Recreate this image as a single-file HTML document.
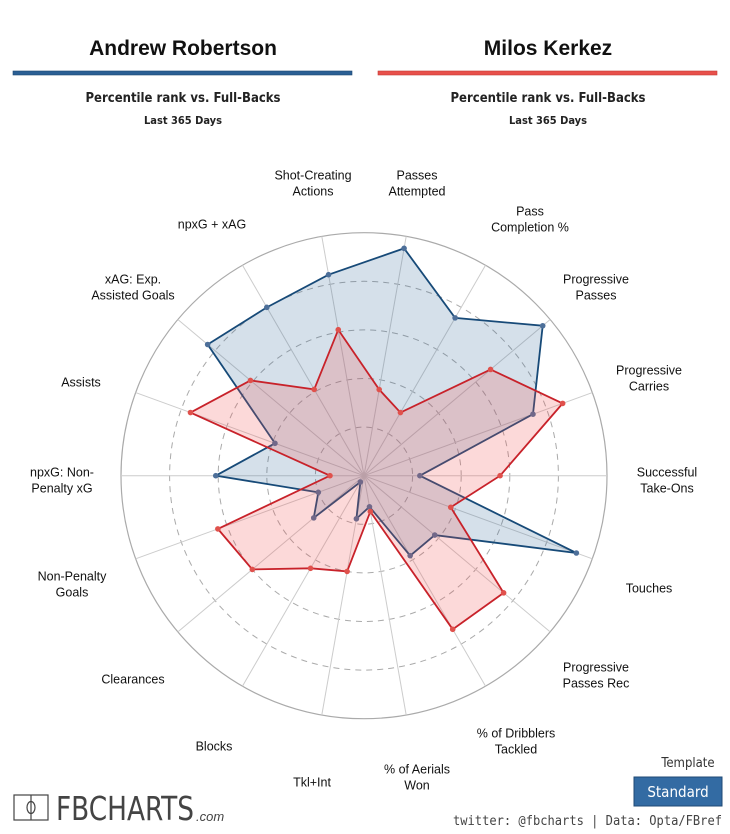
<!DOCTYPE html>
<html><head><meta charset="utf-8">
<style>
html,body{margin:0;padding:0;background:#fff;}
body{width:730px;height:834px;overflow:hidden;position:relative;font-family:"Liberation Sans",sans-serif;}
svg{position:absolute;left:0;top:0;}
</style></head>
<body>
<svg id="chart" width="730" height="834" viewBox="0 0 730 834">
  <text x="183" y="55" text-anchor="middle" font-size="21" font-weight="bold" fill="#111">Andrew Robertson</text>
  <text x="548" y="55" text-anchor="middle" font-size="21" font-weight="bold" fill="#111">Milos Kerkez</text>
  <rect x="13" y="71" width="339" height="4" fill="#2b5f94" stroke="#1d4670" stroke-width="0.6"/>
  <rect x="378" y="71" width="339" height="4" fill="#e8504b" stroke="#c43a36" stroke-width="0.6"/>
  <text x="183" y="102" text-anchor="middle" font-size="13" font-weight="bold" fill="#222" font-family="DejaVu Sans Condensed, DejaVu Sans, sans-serif">Percentile rank vs. Full-Backs</text>
  <text x="548" y="102" text-anchor="middle" font-size="13" font-weight="bold" fill="#222" font-family="DejaVu Sans Condensed, DejaVu Sans, sans-serif">Percentile rank vs. Full-Backs</text>
  <text x="183" y="124" text-anchor="middle" font-size="11" font-weight="bold" fill="#222" font-family="DejaVu Sans Condensed, DejaVu Sans, sans-serif">Last 365 Days</text>
  <text x="548" y="124" text-anchor="middle" font-size="11" font-weight="bold" fill="#222" font-family="DejaVu Sans Condensed, DejaVu Sans, sans-serif">Last 365 Days</text>
  <g id="grid"></g>
  <g id="series"></g>
  <g id="labels"></g>
  <g>
    <rect x="14" y="795" width="34" height="25" fill="none" stroke="#444" stroke-width="1.2"/>
    <line x1="31" y1="795" x2="31" y2="820" stroke="#444" stroke-width="1.2"/>
    <ellipse cx="31" cy="807.5" rx="4" ry="6" fill="none" stroke="#444" stroke-width="1.2"/>
    <text x="56" y="820" font-size="33" fill="#444" font-family="DejaVu Sans Condensed, DejaVu Sans, sans-serif" textLength="138" lengthAdjust="spacingAndGlyphs">FBCHARTS</text>
    <text x="196" y="821" font-size="13" font-style="italic" fill="#444">.com</text>
  </g>
  <text x="688" y="767" text-anchor="middle" font-size="13" fill="#333" font-family="DejaVu Sans Condensed, DejaVu Sans, sans-serif">Template</text>
  <g>
    <rect x="634" y="777" width="88" height="29" fill="#336ba3" stroke="#1f4a75" stroke-width="1"/>
    <text x="678" y="797" text-anchor="middle" font-size="15" fill="#fff" font-family="DejaVu Sans Condensed, DejaVu Sans, sans-serif">Standard</text>
  </g>
  <text x="722" y="825" text-anchor="end" font-size="13" fill="#444" font-family="DejaVu Sans Mono, monospace" textLength="269" lengthAdjust="spacingAndGlyphs">twitter: @fbcharts | Data: Opta/FBref</text>
</svg>
<script>
const categories = ["Successful Take-Ons","Progressive Carries","Progressive Passes","Pass Completion %","Passes Attempted","Shot-Creating Actions","npxG + xAG","xAG: Exp. Assisted Goals","Assists","npxG: Non-Penalty xG","Non-Penalty Goals","Clearances","Blocks","Tkl+Int","% of Aerials Won","% of Dribblers Tackled","Progressive Passes Rec","Touches"];
const robertsonValues = [23,74,96,75,95,84,80,84,39,61,20,27,3,18,13,38,38,93];
const kerkezValues = [56,87,68,30,36,61,41,61,76,14,64,60,44,40,15,73,75,38];
const ringTicks = [20,40,60,80,100];
const labelLines = [["Successful","Take-Ons"],["Progressive","Carries"],["Progressive","Passes"],["Pass","Completion %"],["Passes","Attempted"],["Shot-Creating","Actions"],["npxG + xAG"],["xAG: Exp.","Assisted Goals"],["Assists"],["npxG: Non-","Penalty xG"],["Non-Penalty","Goals"],["Clearances"],["Blocks"],["Tkl+Int"],["% of Aerials","Won"],["% of Dribblers","Tackled"],["Progressive","Passes Rec"],["Touches"]];

const NS="http://www.w3.org/2000/svg";
const cx=364, cy=475.7, R=243, maxV=100;
function angleOf(i){return i*2*Math.PI/categories.length;}
function rScale(v){return v/maxV*R;}
function pt(i,v){const a=angleOf(i),r=rScale(v);return [cx+r*Math.cos(a), cy-r*Math.sin(a)];}
function mk(tag,attrs,parent){const e=document.createElementNS(NS,tag);for(const k in attrs)e.setAttribute(k,attrs[k]);parent.appendChild(e);return e;}

const grid=document.getElementById('grid');
ringTicks.forEach(t=>{
  const c=mk('circle',{cx:cx,cy:cy,r:rScale(t),fill:'none',stroke:'#aaa','stroke-width':t===100?1.2:1,'stroke-dasharray':t===100?'none':'6 5'},grid);
  
  
});
categories.forEach((c,i)=>{
  const p=pt(i,maxV);
  const l=mk('line',{x1:cx,y1:cy,x2:p[0],y2:p[1],stroke:'#ccc','stroke-width':1},grid);
  
  
});

const series=document.getElementById('series');
function drawSeries(vals,fill,stroke,dot,name){
  const pts=vals.map((v,i)=>pt(i,v));
  const poly=mk('polygon',{points:pts.map(p=>p.join(',')).join(' '),fill:fill,stroke:stroke,'stroke-width':1.8,'stroke-linejoin':'miter'},series);
  
  
  pts.forEach((p,i)=>{
    const d=mk('circle',{cx:p[0],cy:p[1],r:2.8,fill:dot},series);
    
    
  });
}
drawSeries(robertsonValues,'rgba(43,100,150,0.2)','#174a78','#4d6f99','robertson');
drawSeries(kerkezValues,'rgba(240,80,80,0.22)','#c8222a','#e0514c','kerkez');

const labelPos=[[667,480],[649,378],[596,287],[530,219],[417,183],[313,183],[212,224],[133,287],[81,382],[62,480],[72,584],[133,679],[214,746],[312,782],[417,777],[516,741],[596,675],[649,588]];
const labels=document.getElementById('labels');
labelLines.forEach((lines,i)=>{
  const [x,y]=labelPos[i];
  const t=mk('text',{x:x,'text-anchor':'middle','font-size':12.5,fill:'#111'},labels);
  
  
  const n=lines.length;
  lines.forEach((s,j)=>{
    const ts=mk('tspan',{x:x,y:y+(j-(n-1)/2)*16+4.5},t);
    ts.textContent=s;
  });
});
</script>
</body></html>
